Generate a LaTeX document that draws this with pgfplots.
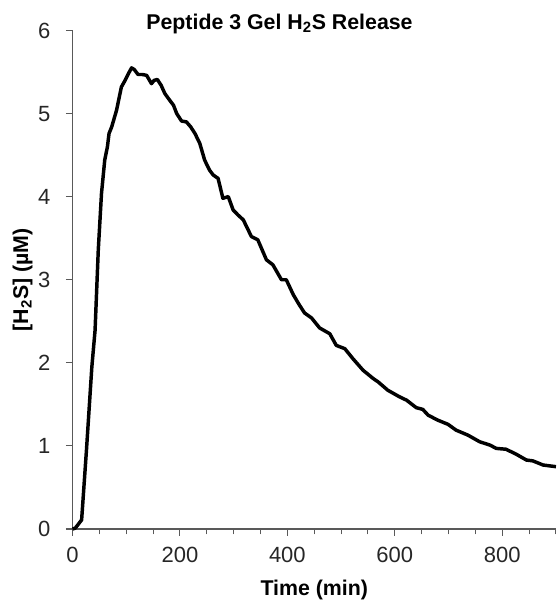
\documentclass[border=0pt]{standalone}
\usepackage{fontspec}
\setmainfont{Liberation Sans}
\usepackage{pgfplots}
\pgfplotsset{compat=1.18}
\begin{document}
\begin{tikzpicture}
\begin{axis}[
  at={(0,0)}, anchor=origin,
  scale only axis, width=362.6pt, height=373.9pt,
  xmin=0, xmax=900, ymin=0, ymax=6,
  axis lines*=left,
  axis line style={draw=black!65, line width=0.8pt},
  every tick/.style={draw=black!65, line width=0.8pt},
  tick align=outside,
  xtick={0,200,400,600,800},
  minor xtick={50,100,...,900},
  ytick={0,1,...,6},
  major tick length=5pt, minor tick length=4pt,
  ticklabel style={font=\fontsize{16.5}{19}\selectfont, text=black!85},
  xticklabel style={yshift=-5pt},
  yticklabel style={xshift=-8pt},
  /pgf/number format/assume math mode=true,
  clip=false,
]
\addplot[black, line width=2.6pt, line join=round] coordinates {
(0,0) (5,0.01) (10,0.05) (17,0.11) (26,0.95) (36,1.95) (42,2.39) (48,3.36)
(54,4.04) (60,4.44) (65,4.6) (68,4.76) (73,4.84) (82,5.04) (91,5.32) (98,5.40)
(104,5.48) (110,5.55) (115,5.53) (122,5.47) (130,5.47) (138,5.46) (147,5.36)
(152,5.40) (158,5.41) (165,5.34) (172,5.24) (181,5.16) (188,5.10) (194,5.0)
(203,4.91) (212,4.90) (220,4.84) (228,4.76) (237,4.64) (246,4.44) (255,4.32)
(262,4.26) (271,4.22) (280,3.98) (290,4.00) (299,3.84) (308,3.78) (318,3.72)
(333,3.52) (345,3.48) (361,3.24) (373,3.18) (389,3.00) (398,3.00) (411,2.82)
(422,2.70) (432,2.60) (445,2.54) (460,2.42) (479,2.35) (491,2.21) (507,2.17)
(522,2.05) (541,1.91) (560,1.81) (569,1.77) (587,1.67) (609,1.59) (622,1.55)
(640,1.46) (652,1.44) (662,1.37) (680,1.31) (699,1.26) (714,1.19) (736,1.13)
(758,1.05) (777,1.01) (789,0.97) (807,0.96) (826,0.90) (845,0.83) (857,0.82)
(876,0.77) (888,0.76) (900,0.75)
};
\end{axis}
\node[anchor=base, font=\fontsize{16}{19}\selectfont\bfseries] at (155.25pt,374.8pt) {Peptide 3 Gel H\textsubscript{2}S Release};
\node[anchor=base, font=\fontsize{16}{19}\selectfont\bfseries] at (181.3pt,-49.5pt) {Time (min)};
\node[anchor=base, rotate=90, font=\fontsize{16}{19}\selectfont\bfseries] at (-33.3pt,186.9pt) {[H\textsubscript{2}S] (µM)};
\pgfresetboundingbox
\path (-54.375pt,-53.25pt) rectangle (364.875pt,396.75pt);
\end{tikzpicture}
\end{document}
